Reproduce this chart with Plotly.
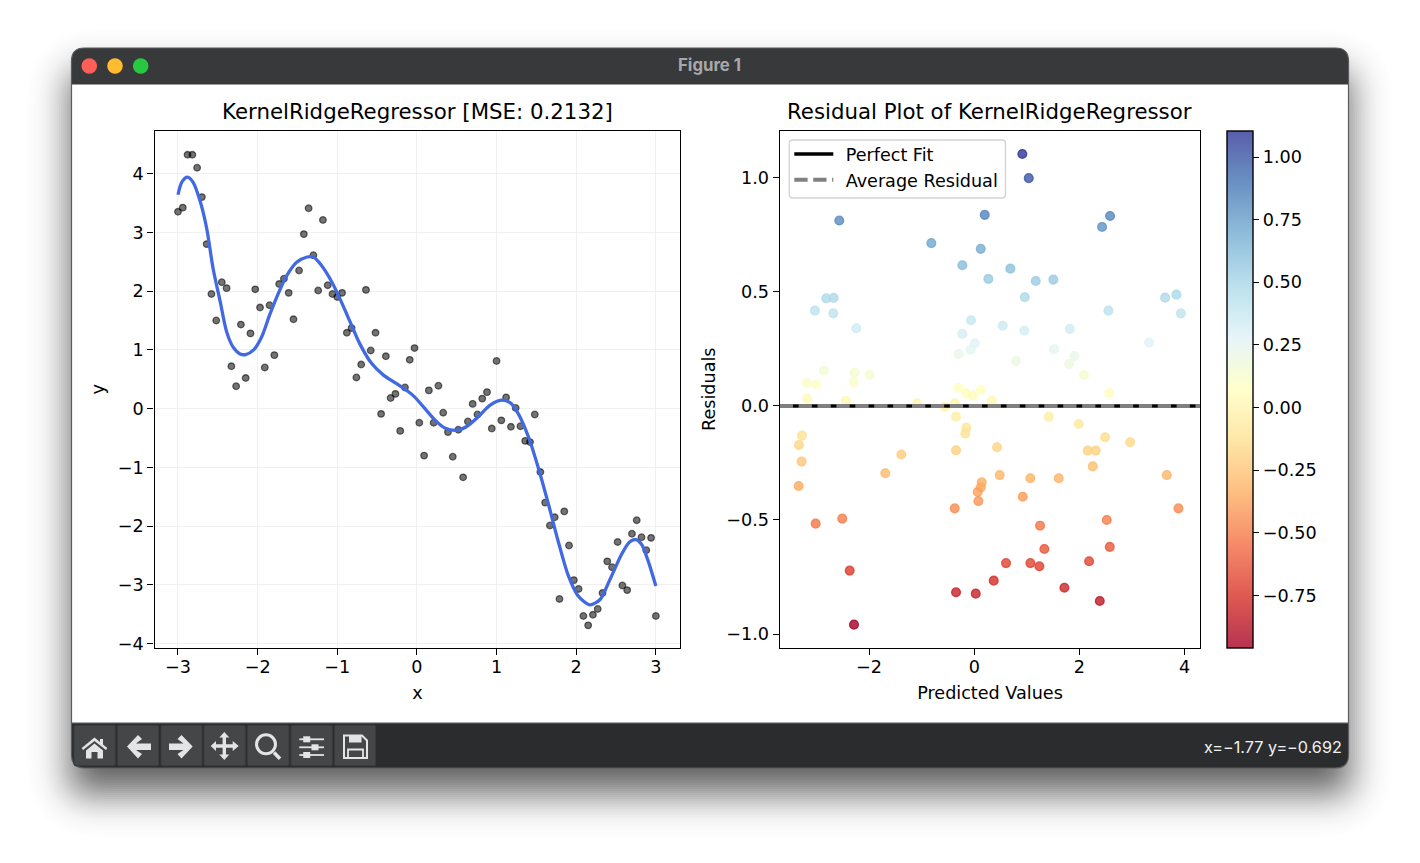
import re, math
import plotly.graph_objects as go

# ---------- data ----------
sample_x = [-3.00,-2.94,-2.88,-2.82,-2.76,-2.70,-2.64,-2.58,-2.52,-2.45,-2.39,-2.33,-2.27,-2.21,-2.15,-2.09,-2.03,-1.97,-1.91,-1.85,
            -1.79,-1.73,-1.67,-1.61,-1.55,-1.48,-1.42,-1.36,-1.30,-1.24,-1.18,-1.12,-1.06,-1.00,-0.94,-0.88,-0.82,-0.76,-0.70,-0.64,
            -0.58,-0.52,-0.45,-0.39,-0.33,-0.27,-0.21,-0.15,-0.09,-0.03,0.03,0.09,0.15,0.21,0.27,0.33,0.39,0.45,0.52,0.58,
            0.64,0.70,0.76,0.82,0.88,0.94,1.00,1.06,1.12,1.18,1.24,1.30,1.36,1.42,1.48,1.55,1.61,1.67,1.73,1.79,
            1.85,1.91,1.97,2.03,2.09,2.15,2.21,2.27,2.33,2.39,2.45,2.52,2.58,2.64,2.70,2.76,2.82,2.88,2.94,3.00]
sample_y = [3.35,3.42,4.32,4.32,4.10,3.60,2.80,1.95,1.50,2.15,2.05,0.72,0.38,1.43,0.52,1.28,2.03,1.72,0.70,1.76,
            0.91,2.12,2.21,1.97,1.52,2.35,2.97,3.41,2.61,2.01,3.21,2.10,1.95,1.90,1.97,1.29,1.37,0.53,0.75,2.02,
            0.99,1.29,-0.09,0.89,0.18,0.25,-0.38,0.36,0.83,1.03,-0.24,-0.80,0.31,-0.24,0.39,-0.07,-0.40,-0.82,-0.36,-1.17,
            -0.22,0.08,-0.10,0.17,0.28,-0.34,0.81,-0.20,0.19,-0.31,0.01,-0.30,-0.55,-0.57,-0.10,-1.08,-1.60,-1.99,-1.85,-3.24,
            -1.75,-2.33,-2.92,-3.07,-3.53,-3.69,-3.51,-3.41,-3.14,-2.60,-2.70,-2.27,-3.01,-3.09,-2.13,-1.90,-2.19,-2.41,-2.20,-3.53]
curve_x = [-3.00,-2.95,-2.88,-2.81,-2.72,-2.64,-2.56,-2.47,-2.39,-2.31,-2.22,-2.15,-2.05,-1.95,-1.85,-1.74,-1.64,-1.51,-1.38,-1.30,
           -1.20,-1.07,-0.97,-0.84,-0.72,-0.57,-0.42,-0.25,-0.11,-0.03,0.10,0.23,0.35,0.50,0.62,0.77,0.92,1.06,1.17,1.27,
           1.40,1.52,1.65,1.77,1.90,2.02,2.17,2.30,2.42,2.57,2.67,2.75,2.82,2.90,3.00]
curve_y = [3.64,3.86,3.94,3.85,3.52,3.07,2.39,1.82,1.31,1.05,0.93,0.92,1.00,1.22,1.59,1.96,2.25,2.49,2.58,2.58,
           2.44,2.16,1.88,1.48,1.11,0.77,0.57,0.42,0.29,0.20,0.00,-0.20,-0.33,-0.37,-0.31,-0.14,0.06,0.145,0.10,-0.08,
           -0.48,-0.99,-1.62,-2.24,-2.84,-3.18,-3.34,-3.25,-2.92,-2.48,-2.27,-2.23,-2.31,-2.58,-3.02]
predicted = [-2.567,-0.816,0.20,0.124,-0.226,0.269,-2.814,-2.674,-3.03,-2.68,-2.243,-0.061,-0.226,0.01,-0.067,-0.295,-2.858,-2.274,-1.989,
             -3.182,-3.01,-2.293,-3.176,-2.44,-0.302,-0.156,-0.029,0.124,0.333,-1.088,-0.365,-0.556,
             -0.346,-0.15,-0.169,-0.346,-3.277,-3.334,-3.283,-3.34,-1.387,-1.692,0.142,0.124,0.066,0.079,-0.371,-2.51,-3.016,-2.369,-0.346,0.029,0.371,-2.287,
             0.915,1.037,2.584,2.432,0.687,1.17,1.505,0.961,2.552,3.631,3.846,3.93,0.542,0.953,1.817,3.326,1.519,1.905,0.795,1.804,2.089,2.571,
             1.418,1.989,2.489,2.965,0.434,2.16,2.312,2.255,0.485,1.068,1.608,3.663,0.923,3.884,2.521,1.252,1.334,2.578,0.605,1.068,1.239,2.185,1.715,2.388]
residuals = [0.813,0.714,0.838,0.689,0.617,0.557,0.472,0.474,0.418,0.406,0.341,0.376,0.316,0.275,0.247,0.228,0.155,0.146,0.137,
             0.101,0.094,0.104,0.032,0.023,0.08,0.056,0.045,0.07,0.023,0.012,0.012,-0.004,
             -0.047,-0.095,-0.121,-0.194,-0.13,-0.171,-0.244,-0.351,-0.213,-0.295,-0.335,-0.357,-0.377,-0.417,-0.449,-0.494,-0.516,-0.722,-0.817,-0.823,-0.766,-0.959,
             1.105,0.999,0.833,0.785,0.602,0.548,0.554,0.477,0.418,0.475,0.488,0.406,0.352,0.33,0.338,0.278,0.249,0.219,0.197,0.184,0.135,0.057,
             -0.048,-0.079,-0.137,-0.159,-0.181,-0.196,-0.196,-0.265,-0.303,-0.317,-0.317,-0.303,-0.398,-0.449,-0.5,-0.525,-0.627,-0.618,-0.689,-0.689,-0.703,-0.681,-0.797,-0.855]
reference_x = [-3.70, 4.30]
perfect_fit = [0.0, 0.0]
average_residual = [0.0, 0.0]
left_x_ticks = [-3,-2,-1,0,1,2,3]
left_y_ticks = [-4,-3,-2,-1,0,1,2,3,4]
right_x_ticks = [-2,0,2,4]
right_y_ticks = [-1.0,-0.5,0.0,0.5,1.0]
bar_ticks = [-0.75,-0.5,-0.25,0.0,0.25,0.5,0.75,1.0]

W, H = 1420, 863
FONT = "DejaVu Sans"
FS = 17.6
RDYLBU = ["#a50026","#d73027","#f46d43","#fdae61","#fee090","#ffffbf","#e0f3f8","#abd9e9","#74add1","#4575b4","#313695"]

def rgb(h):
    return tuple(int(h[i:i+2], 16) for i in (1, 3, 5))

alpha_scale = [[i/10, "rgba(%d,%d,%d,0.8)" % rgb(c)] for i, c in enumerate(RDYLBU)]
flat_scale = [[i/10, "rgb(%d,%d,%d)" % tuple(round(v*0.8+255*0.2) for v in rgb(c))] for i, c in enumerate(RDYLBU)]

def P(s):
    out, idx = [], 0
    for tok in re.findall(r"[A-Za-z]|-?\d+\.?\d*", s):
        if tok.isalpha():
            out.append(tok); idx = 0
        else:
            v = float(tok)
            out.append("%.6f" % (v/W if idx % 2 == 0 else 1-v/H))
            idx += 1
    res = ""
    i = 0
    for t in out:
        if t.isalpha():
            res += t; i = 0
        else:
            res += ("," if i % 2 else (" " if i else "")) + t
            i += 1
    return res

def rr(x0, y0, x1, y1, r):
    return P(f"M{x0+r},{y0} L{x1-r},{y0} Q{x1},{y0} {x1},{y0+r} L{x1},{y1-r} Q{x1},{y1} {x1-r},{y1} "
             f"L{x0+r},{y1} Q{x0},{y1} {x0},{y1-r} L{x0},{y0+r} Q{x0},{y0} {x0+r},{y0} Z")

shapes = []
def path(d, fill=None, line=None, lw=0, layer="below", raw=False):
    shapes.append(dict(type="path", xref="paper", yref="paper", layer=layer,
                       path=d if raw else P(d), fillcolor=fill or "rgba(0,0,0,0)",
                       line=dict(color=line or "rgba(0,0,0,0)", width=lw)))

def circle(cx, cy, r, fill=None, line=None, lw=0):
    shapes.append(dict(type="circle", xref="paper", yref="paper", layer="below",
                       x0=(cx-r)/W, x1=(cx+r)/W, y0=1-(cy+r)/H, y1=1-(cy-r)/H,
                       fillcolor=fill or "rgba(0,0,0,0)", line=dict(color=line or "rgba(0,0,0,0)", width=lw)))

# soft drop shadow of the window: nested translucent rounded rectangles
PEAK, SIGMA = 0.62, 20.0
def shade(d):
    return PEAK*0.5*(1-math.erf(d/(SIGMA*math.sqrt(2))))
prev = 0.0
for d in range(60, -32, -2):
    a = shade(d)
    layer_alpha = 1-(1-a)/(1-prev)
    prev = a
    path(rr(71-d, 73-d, 1349+d, 793+d, max(8, 36+0.8*d)), fill="rgba(0,0,0,%.5f)" % layer_alpha, raw=True)

# window
WX0, WY0, WX1, WY1 = 71.5, 48, 1348.5, 768
path(rr(WX0, WY0, WX1, WY1, 13), fill="#ffffff", raw=True)
path(P(f"M{WX0},84.5 L{WX0},61 Q{WX0},{WY0} {WX0+13},{WY0} L{WX1-13},{WY0} Q{WX1},{WY0} {WX1},61 L{WX1},84.5 Z"), fill="#38393b", raw=True)
path(P(f"M{WX0},723 L{WX1},723 L{WX1},755 Q{WX1},{WY1} {WX1-13},{WY1} L{WX0+13},{WY1} Q{WX0},{WY1} {WX0},755 Z"), fill="#2b2c2e", raw=True)
path(f"M{WX0},722.7 L{WX1},722.7", line="#a8a8a8", lw=1.2)
path(rr(WX0, WY0, WX1, WY1, 13), line="#5c5c5e", lw=1.2, raw=True)
circle(89.3, 66, 7.8, fill="#ff5f57")
circle(115, 66, 7.8, fill="#febc2e")
circle(140.7, 66, 7.8, fill="#28c840")

# toolbar buttons
for x0, x1 in [(74,115.3),(117.3,158.7),(161,202),(204,245.3),(247.5,289),(291,332.3),(334.5,375.5)]:
    path(rr(x0, 725.3, x1, 765.7, 1.5), fill="#454648", line="#3a3b3d", lw=1, raw=True)
ICON = "#e4e4e4"
path("M94.5,737.5 L81.7,748 L83,750 L94.5,741 L106,750 L107.3,748 L103,744.5 L103,739 L100,739 L100,742 Z", fill=ICON)
path("M86,750.5 L94.5,743.5 L103,750.5 L103,758.5 L97.5,758.5 L97.5,752 L91.5,752 L91.5,758.5 L86,758.5 Z", fill=ICON)
path("M127,746.5 L138,735 L142,739 L136,743.5 L151,743.5 L151,750 L136,750 L142,754 L138,758.5 Z", fill=ICON)
path("M192.7,746.5 L181.5,735 L177.5,739 L183.5,743.5 L169,743.5 L169,750 L183.5,750 L177.5,754 L181.5,758.5 Z", fill=ICON)
path("M224.3,732 L229.3,737.5 L226,737.5 L226,744.3 L232.7,744.3 L232.7,741 L238.7,746 L232.7,751 L232.7,747.7 L226,747.7 L226,754.5 "
     "L229.3,754.5 L224.3,760 L219.3,754.5 L222.6,754.5 L222.6,747.7 L216,747.7 L216,751 L210.7,746 L216,741 L216,744.3 L222.6,744.3 L222.6,737.5 L219.3,737.5 Z", fill=ICON)
circle(266, 744.3, 9.5, line=ICON, lw=3)
path("M274,752.5 L280,758.7", line=ICON, lw=3.6)
for yy, kx in [(739.3,306.7),(747.3,315),(755,306.7)]:
    path(f"M299.3,{yy} L324,{yy}", line=ICON, lw=1.8)
    path(f"M{kx-3.5},{yy-3} L{kx+3.5},{yy-3} L{kx+3.5},{yy+3} L{kx-3.5},{yy+3} Z", fill=ICON)
path("M344,735.5 L362,735.5 L367,740.5 L367,758 L344,758 Z", line=ICON, lw=2)
path("M349,735.5 L361.5,735.5 L361.5,742.5 L349,742.5 Z", fill=ICON)
path("M348,749.5 L363,749.5 L363,758 L348,758 Z", line=ICON, lw=1.8)

# legend frame
path(rr(789.3, 140, 1005.5, 198, 3.5), fill="rgba(255,255,255,0.9)", line="#d4d4d4", lw=1.4, raw=True)

fig = go.Figure()
fig.add_trace(go.Scatter(x=sample_x, y=sample_y, mode="markers", xaxis="x", yaxis="y", showlegend=False,
                         marker=dict(size=6.6, color="rgba(0,0,0,0.55)", line=dict(width=1.3, color="rgba(0,0,0,0.55)"))))
fig.add_trace(go.Scatter(x=curve_x, y=curve_y, mode="lines", xaxis="x", yaxis="y", showlegend=False,
                         line=dict(color="#4169e1", width=3.3, shape="spline", smoothing=0.8)))
fig.add_trace(go.Scatter(x=predicted, y=residuals, mode="markers", xaxis="x2", yaxis="y2", showlegend=False,
                         marker=dict(size=8.8, color=residuals, colorscale=alpha_scale, cmin=-0.959, cmax=1.105,
                                     line=dict(width=1.3, color=residuals, colorscale=alpha_scale, cmin=-0.959, cmax=1.105))))
fig.add_trace(go.Scatter(x=reference_x, y=perfect_fit, mode="lines", xaxis="x2", yaxis="y2", name="\u00a0\u200aPerfect Fit",
                         legendgroup="a", line=dict(color="black", width=3.4)))
fig.add_trace(go.Scatter(x=reference_x, y=average_residual, mode="lines", xaxis="x2", yaxis="y2", name="\u00a0\u200aAverage Residual",
                         legendgroup="b", line=dict(color="#808080", width=4, dash="13.3px,5.6px")))
# carries the colour bar (opaque equivalent of the alpha map)
fig.add_trace(go.Scatter(x=predicted, y=residuals, mode="markers", xaxis="x2", yaxis="y2", showlegend=False, hoverinfo="skip",
                         marker=dict(size=1, opacity=0, color=residuals, colorscale=flat_scale, cmin=-0.959, cmax=1.105, showscale=True,
                                     colorbar=dict(x=1226.7/W, xanchor="left", y=1-647.7/H, yanchor="bottom", len=517/H, lenmode="fraction",
                                                   thickness=26, thicknessmode="pixels", xpad=0, ypad=0,
                                                   outlinecolor="black", outlinewidth=1.4, ticks="outside", ticklen=6, tickwidth=1.3, tickcolor="black",
                                                   tickvals=bar_ticks, tickformat=".2f", tickfont=dict(family=FONT, size=FS, color="black")))))

def axis(domain, rng, ticks, title, anchor, fmt=None, grid=False, standoff=8, label_standoff=0):
    d = dict(domain=domain, range=rng, tickmode="array", tickvals=ticks, anchor=anchor, showline=True, mirror=True,
             linecolor="black", linewidth=1.4, ticks="outside", ticklen=6, tickwidth=1.3, tickcolor="black",
             zeroline=False, showgrid=grid, gridcolor="#f0f0f0", gridwidth=1.4, ticklabelstandoff=label_standoff,
             tickfont=dict(family=FONT, size=FS, color="black"),
             title=dict(text=title, font=dict(family=FONT, size=FS, color="black"), standoff=standoff))
    if fmt:
        d["tickformat"] = fmt
    return d

ydom = [1-647.7/H, 1-130.7/H]
def ann(text, x, y, size, color, family=FONT, anchor="center", weight=None):
    f = dict(family=family, size=size, color=color)
    if weight:
        f["weight"] = weight
    return dict(text=text, x=x/W, y=1-y/H, xref="paper", yref="paper", showarrow=False, xanchor=anchor, yanchor="middle", font=f)

fig.update_layout(
    width=W, height=H+6, margin=dict(l=0, r=0, t=0, b=0, pad=0), autosize=False,
    paper_bgcolor="white", plot_bgcolor="rgba(0,0,0,0)", font=dict(family=FONT, size=FS, color="black"),
    xaxis=axis([154.5/W, 680.3/W], [-3.295, 3.307], left_x_ticks, "x", "y", grid=True, standoff=10, label_standoff=-3),
    yaxis=axis(ydom, [-4.07, 4.73], left_y_ticks, "y", "x", grid=True),
    xaxis2=axis([779.7/W, 1200.3/W], [-3.70, 4.30], right_x_ticks, "Predicted Values", "y2", standoff=10, label_standoff=-3),
    yaxis2=axis(ydom, [-1.06, 1.207], right_y_ticks, "Residuals", "x2", fmt=".1f", standoff=6),
    legend=dict(x=789.3/W, y=1-136/H, xanchor="left", yanchor="top", bgcolor="rgba(0,0,0,0)", borderwidth=0,
                font=dict(family=FONT, size=FS, color="black"), itemwidth=39, tracegroupgap=0, itemclick=False),
    shapes=shapes,
    annotations=[
        ann("KernelRidgeRegressor [MSE: 0.2132]", 417, 112, 21.3, "black"),
        ann("Residual Plot of KernelRidgeRegressor", 990, 112, 21.3, "black"),
        ann("Figure 1", 709, 65.5, 16.8, "#a8a8aa", family="Inter", weight=700),
        ann("x=−1.77 y=−0.692", 1344, 746.5, 16.2, "#f2f2f2", family="Inter", anchor="right"),
    ],
)
fig.write_html("out.html", config=dict(displayModeBar=False),
               post_script="document.body.style.margin='0';document.body.style.overflow='hidden';")
